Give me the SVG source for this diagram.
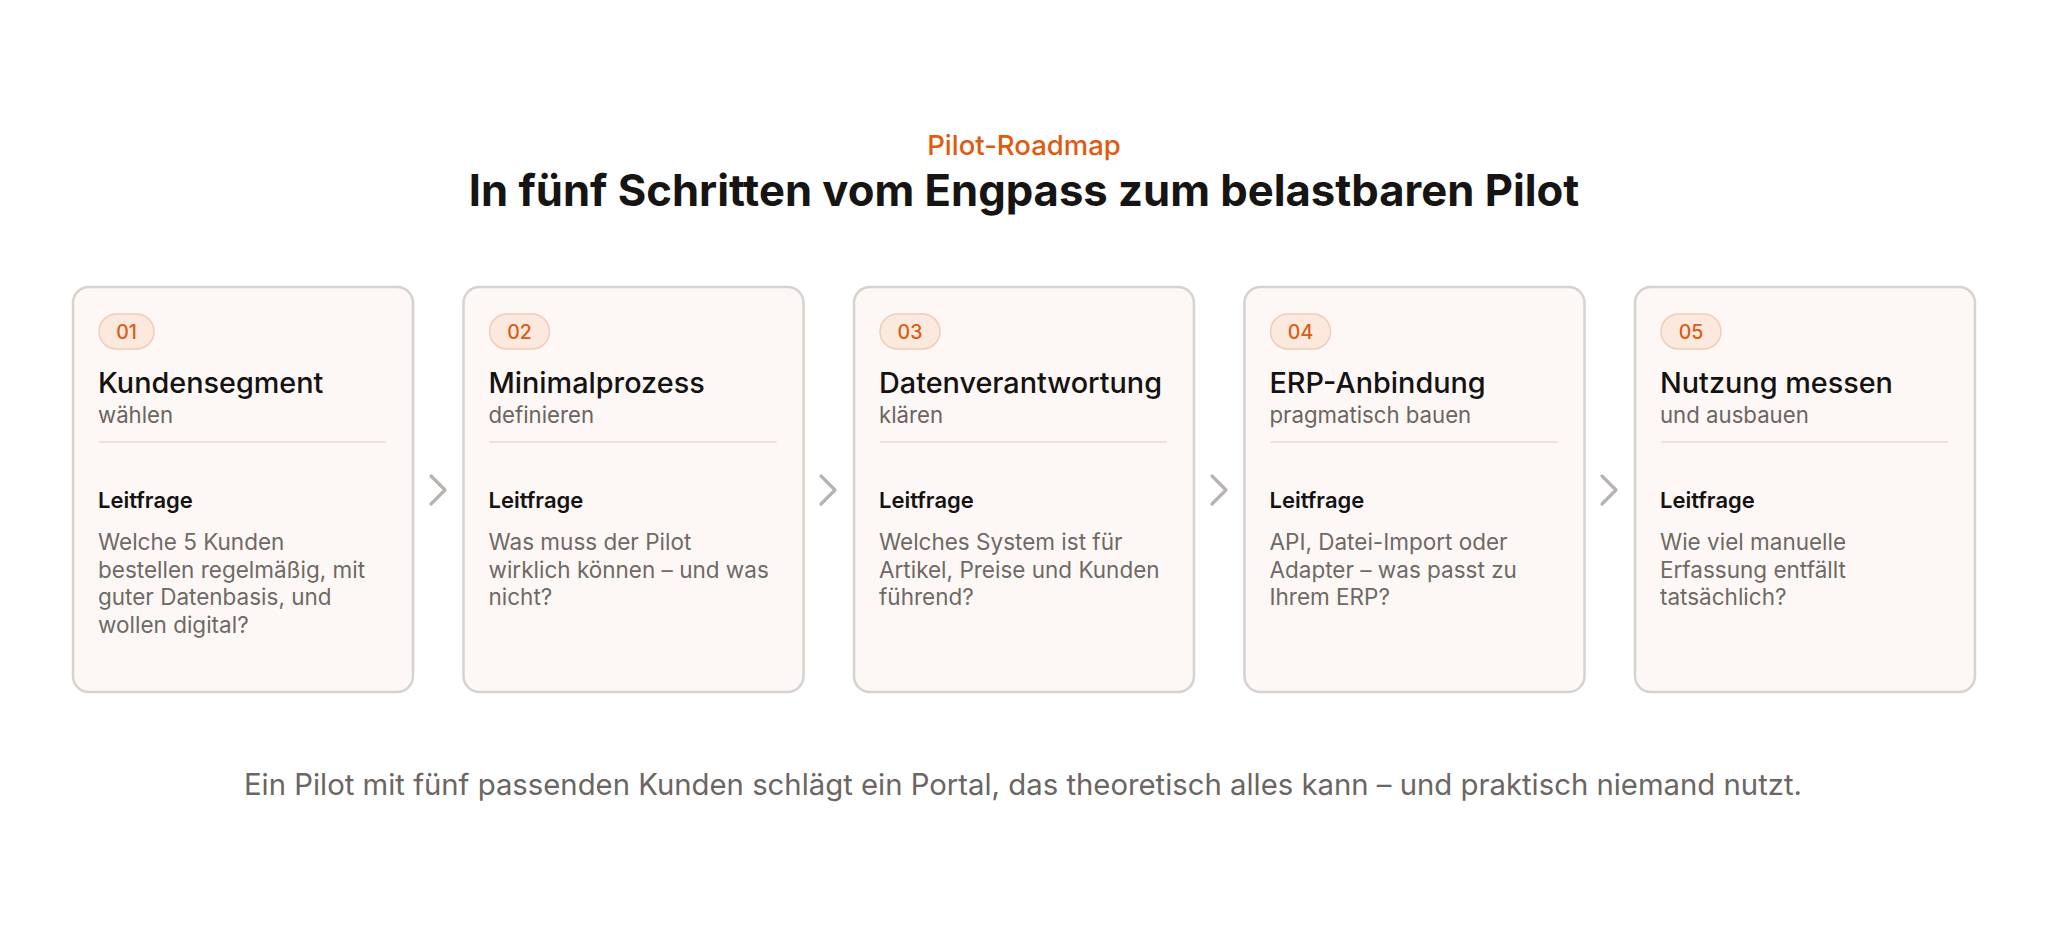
<svg xmlns="http://www.w3.org/2000/svg" width="2048" height="931" viewBox="0 0 2048 931">
<style>
text{font-family:Inter,"Open Sans","Liberation Sans",sans-serif}
.eyebrow{font-size:27.5px;font-weight:500;fill:#e05a0f;text-anchor:middle}
.title{font-size:43.6px;font-weight:700;fill:#171513;text-anchor:middle}
.card{fill:#fdf8f5;stroke:#d5d2d0;stroke-width:2.5}
.badge{fill:#fce9dd;stroke:#f0cdb9;stroke-width:1.5}
.num{font-size:19.5px;font-weight:500;fill:#dc5a12;text-anchor:middle}
.h{font-size:28.8px;font-weight:500;fill:#141212}
.sub{font-size:22.2px;fill:#6b6562}
.rule{stroke:#e8d8d3;stroke-width:1.5}
.lf{font-size:22px;font-weight:600;fill:#141212}
.body{font-size:22.5px;fill:#6f6966}
.chev{fill:none;stroke:#b8b3b0;stroke-width:3.2;stroke-linecap:round;stroke-linejoin:round}
.foot{font-size:29.3px;fill:#6b6563;text-anchor:middle}
</style>
<rect width="2048" height="931" fill="#ffffff"/>
<text class="eyebrow" x="1024" y="155">Pilot-Roadmap</text>
<text class="title" x="1024" y="206">In fünf Schritten vom Engpass zum belastbaren Pilot</text>

<g id="connectors">
<path class="chev" d="M431,476 L445,490 L431,504"/>
<path class="chev" d="M821,476 L835,490 L821,504"/>
<path class="chev" d="M1212,476 L1226,490 L1212,504"/>
<path class="chev" d="M1602,476 L1616,490 L1602,504"/>
</g>

<g id="step1">
<rect class="card" x="73" y="287" width="340" height="405" rx="16"/>
<rect class="badge" x="99" y="314" width="55" height="35" rx="17.5"/>
<text class="num" x="126.5" y="338.5">01</text>
<text class="h" x="98" y="393">Kundensegment</text>
<text class="sub" x="98" y="423">wählen</text>
<line class="rule" x1="99" y1="442" x2="386" y2="442"/>
<text class="lf" x="98" y="508">Leitfrage</text>
<text class="body" x="98" y="550">Welche 5 Kunden</text>
<text class="body" x="98" y="577.5">bestellen regelmäßig, mit</text>
<text class="body" x="98" y="605">guter Datenbasis, und</text>
<text class="body" x="98" y="632.5">wollen digital?</text>
</g>

<g id="step2">
<rect class="card" x="463.5" y="287" width="340" height="405" rx="16"/>
<rect class="badge" x="489.5" y="314" width="60" height="35" rx="17.5"/>
<text class="num" x="519.5" y="338.5">02</text>
<text class="h" x="488.5" y="393">Minimalprozess</text>
<text class="sub" x="488.5" y="423">definieren</text>
<line class="rule" x1="489.5" y1="442" x2="776.5" y2="442"/>
<text class="lf" x="488.5" y="508">Leitfrage</text>
<text class="body" x="488.5" y="550">Was muss der Pilot</text>
<text class="body" x="488.5" y="577.5">wirklich können – und was</text>
<text class="body" x="488.5" y="605">nicht?</text>
</g>

<g id="step3">
<rect class="card" x="854" y="287" width="340" height="405" rx="16"/>
<rect class="badge" x="880" y="314" width="60" height="35" rx="17.5"/>
<text class="num" x="910" y="338.5">03</text>
<text class="h" x="879" y="393">Datenverantwortung</text>
<text class="sub" x="879" y="423">klären</text>
<line class="rule" x1="880" y1="442" x2="1167" y2="442"/>
<text class="lf" x="879" y="508">Leitfrage</text>
<text class="body" x="879" y="550">Welches System ist für</text>
<text class="body" x="879" y="577.5">Artikel, Preise und Kunden</text>
<text class="body" x="879" y="605">führend?</text>
</g>

<g id="step4">
<rect class="card" x="1244.5" y="287" width="340" height="405" rx="16"/>
<rect class="badge" x="1270.5" y="314" width="60" height="35" rx="17.5"/>
<text class="num" x="1300.5" y="338.5">04</text>
<text class="h" x="1269.5" y="393">ERP-Anbindung</text>
<text class="sub" x="1269.5" y="423">pragmatisch bauen</text>
<line class="rule" x1="1270.5" y1="442" x2="1557.5" y2="442"/>
<text class="lf" x="1269.5" y="508">Leitfrage</text>
<text class="body" x="1269.5" y="550">API, Datei-Import oder</text>
<text class="body" x="1269.5" y="577.5">Adapter – was passt zu</text>
<text class="body" x="1269.5" y="605">Ihrem ERP?</text>
</g>

<g id="step5">
<rect class="card" x="1635" y="287" width="340" height="405" rx="16"/>
<rect class="badge" x="1661" y="314" width="60" height="35" rx="17.5"/>
<text class="num" x="1691" y="338.5">05</text>
<text class="h" x="1660" y="393">Nutzung messen</text>
<text class="sub" x="1660" y="423">und ausbauen</text>
<line class="rule" x1="1661" y1="442" x2="1948" y2="442"/>
<text class="lf" x="1660" y="508">Leitfrage</text>
<text class="body" x="1660" y="550">Wie viel manuelle</text>
<text class="body" x="1660" y="577.5">Erfassung entfällt</text>
<text class="body" x="1660" y="605">tatsächlich?</text>
</g>

<text class="foot" x="1023" y="795">Ein Pilot mit fünf passenden Kunden schlägt ein Portal, das theoretisch alles kann – und praktisch niemand nutzt.</text>
</svg>
